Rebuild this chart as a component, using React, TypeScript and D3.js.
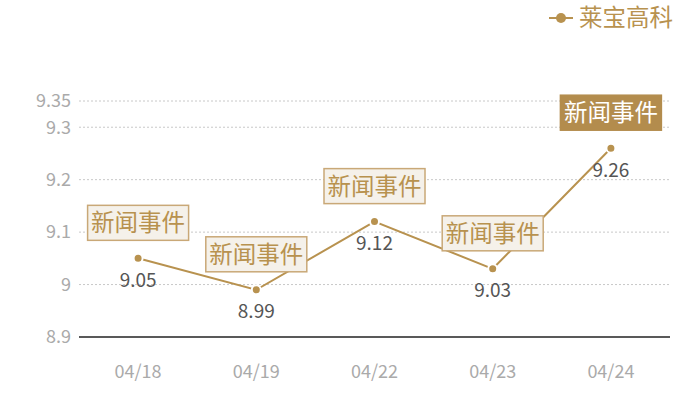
import React from 'react';
import * as d3 from 'd3';

const dates = ['04/18', '04/19', '04/22', '04/23', '04/24'];
const prices = [9.05, 8.99, 9.12, 9.03, 9.26];
const highlighted = [false, false, false, false, true];
const yTicks = [8.9, 9, 9.1, 9.2, 9.3, 9.35];
const seriesName = '莱宝高科';
const eventLabel = '新闻事件';

const W = 700;
const H = 400;
const margin = { top: 101, right: 30, bottom: 63, left: 79 };
const gold = '#b8924f';
const font = '"Noto Sans CJK SC", "Noto Sans", sans-serif';

export default function App() {
  const x = d3
    .scaleBand<string>()
    .domain(dates)
    .range([margin.left, W - margin.right]);
  const y = d3
    .scaleLinear()
    .domain([8.9, 9.35])
    .range([H - margin.bottom, margin.top]);

  const cx = (d: string) => (x(d) ?? 0) + x.bandwidth() / 2;
  const pts = dates.map((d, i) => ({ d, v: prices[i], hl: highlighted[i] }));

  const line = d3
    .line<{ d: string; v: number }>()
    .x((p) => cx(p.d))
    .y((p) => y(p.v));

  const boxW = 101;
  const boxH = 35;

  return (
    <svg
      width={W}
      height={H}
      style={{ position: 'absolute', left: 0, top: 0, fontFamily: font }}
    >
      {/* grid */}
      {yTicks.map((t) => (
        <g key={t}>
          {t !== 8.9 && (
            <line
              x1={margin.left}
              x2={W - margin.right}
              y1={y(t)}
              y2={y(t)}
              stroke="#c8c8c8"
              strokeDasharray="2,2"
            />
          )}
          <text
            x={margin.left - 8}
            y={y(t)}
            dy="0.35em"
            textAnchor="end"
            fontSize={18}
            fill="#aaaaaa"
          >
            {t}
          </text>
        </g>
      ))}
      <line
        x1={margin.left}
        x2={W - margin.right}
        y1={y(8.9)}
        y2={y(8.9)}
        stroke="#222"
        strokeWidth={1.5}
      />
      {dates.map((d) => (
        <text
          key={d}
          x={cx(d)}
          y={H - margin.bottom + 35}
          dy="0.35em"
          textAnchor="middle"
          fontSize={18}
          fill="#aaaaaa"
        >
          {d}
        </text>
      ))}

      {/* series */}
      <path d={line(pts) ?? ''} fill="none" stroke={gold} strokeWidth={2} />
      {pts.map((p) => (
        <circle
          key={p.d}
          cx={cx(p.d)}
          cy={y(p.v)}
          r={4.5}
          fill={gold}
          stroke="#fff"
          strokeWidth={2}
        />
      ))}
      {pts.map((p) => (
        <text
          key={'v' + p.d}
          x={cx(p.d)}
          y={y(p.v) + 22}
          dy="0.35em"
          textAnchor="middle"
          fontSize={19}
          fill="#555555"
        >
          {p.v}
        </text>
      ))}

      {/* event markers */}
      {pts.map((p) => {
        const bx = cx(p.d) - boxW / 2;
        const by = y(p.v) - 18 - boxH;
        return (
          <g key={'e' + p.d}>
            <rect
              x={bx}
              y={by}
              width={boxW}
              height={boxH}
              fill={p.hl ? '#b38c4d' : '#f5f1ea'}
              stroke={p.hl ? '#b38c4d' : '#c9a877'}
              strokeWidth={1.5}
            />
            <text
              x={cx(p.d)}
              y={by + boxH / 2}
              dy="0.36em"
              textAnchor="middle"
              fontSize={23.5}
              fill={p.hl ? '#ffffff' : '#b8924f'}
            >
              {eventLabel}
            </text>
          </g>
        );
      })}

      {/* legend */}
      <line x1={549} x2={573} y1={18} y2={18} stroke={gold} strokeWidth={2} />
      <circle cx={561} cy={18} r={5} fill={gold} />
      <text x={579} y={18} dy="0.36em" fontSize={23.5} fill={gold}>
        {seriesName}
      </text>
    </svg>
  );
}
